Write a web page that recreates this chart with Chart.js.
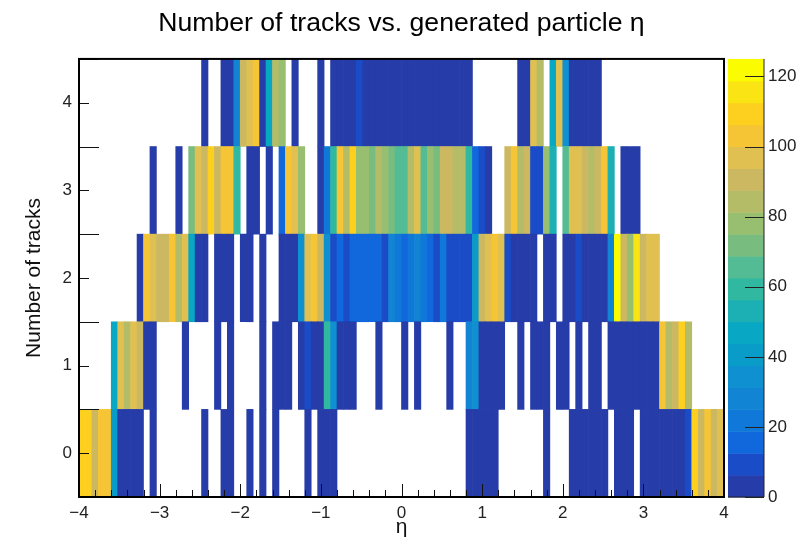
<!DOCTYPE html>
<html>
<head>
<meta charset="utf-8">
<title>Number of tracks vs. generated particle eta</title>
<script src="https://cdn.jsdelivr.net/npm/chart.js@4"></script>
<style>
  html, body { margin: 0; padding: 0; background: #fff; }
  canvas { display: block; }
</style>
</head>
<body>
<canvas id="myChart" width="799" height="537"></canvas>
<script>
// bin centres in eta, 100 bins from -4 to 4
const etaBins = [
  -3.96, -3.88, -3.80, -3.72, -3.64, -3.56, -3.48, -3.40, -3.32, -3.24,
  -3.16, -3.08, -3.00, -2.92, -2.84, -2.76, -2.68, -2.60, -2.52, -2.44,
  -2.36, -2.28, -2.20, -2.12, -2.04, -1.96, -1.88, -1.80, -1.72, -1.64,
  -1.56, -1.48, -1.40, -1.32, -1.24, -1.16, -1.08, -1.00, -0.92, -0.84,
  -0.76, -0.68, -0.60, -0.52, -0.44, -0.36, -0.28, -0.20, -0.12, -0.04,
  0.04, 0.12, 0.20, 0.28, 0.36, 0.44, 0.52, 0.60, 0.68, 0.76,
  0.84, 0.92, 1.00, 1.08, 1.16, 1.24, 1.32, 1.40, 1.48, 1.56,
  1.64, 1.72, 1.80, 1.88, 1.96, 2.04, 2.12, 2.20, 2.28, 2.36,
  2.44, 2.52, 2.60, 2.68, 2.76, 2.84, 2.92, 3.00, 3.08, 3.16,
  3.24, 3.32, 3.40, 3.48, 3.56, 3.64, 3.72, 3.80, 3.88, 3.96
];

// counts per eta bin, one array per number of tracks. 0 = empty bin
const tracks0 = [
  109, 109, 91, 103, 103, 41, 3, 3, 3, 3,
  0, 3, 0, 0, 0, 0, 0, 0, 0, 3,
  0, 0, 3, 3, 0, 0, 3, 0, 3, 0,
  3, 0, 0, 0, 0, 3, 0, 3, 3, 3,
  0, 0, 0, 0, 0, 0, 0, 0, 0, 0,
  0, 0, 0, 0, 0, 0, 0, 0, 0, 0,
  3, 3, 3, 3, 3, 0, 0, 0, 0, 0,
  0, 0, 3, 0, 0, 0, 3, 3, 3, 3,
  3, 3, 0, 3, 3, 3, 0, 3, 3, 3,
  3, 3, 3, 3, 9, 109, 91, 103, 91, 97
];
const tracks1 = [
  0, 0, 0, 0, 0, 47, 97, 84, 97, 91,
  3, 3, 0, 0, 0, 0, 3, 0, 0, 0,
  0, 3, 0, 3, 0, 0, 0, 0, 3, 0,
  3, 3, 3, 0, 3, 9, 3, 3, 59, 34,
  3, 3, 3, 0, 0, 0, 3, 0, 0, 0,
  3, 0, 3, 0, 0, 0, 0, 3, 0, 0,
  28, 34, 3, 3, 3, 3, 0, 0, 3, 0,
  3, 3, 3, 0, 3, 3, 0, 3, 0, 3,
  3, 0, 3, 3, 3, 3, 3, 3, 3, 3,
  103, 84, 91, 109, 84, 0, 0, 0, 0, 0
];
const tracks2 = [
  0, 0, 0, 0, 0, 0, 0, 0, 0, 3,
  103, 97, 91, 91, 103, 84, 97, 47, 3, 3,
  0, 3, 3, 3, 0, 3, 3, 0, 3, 0,
  0, 3, 3, 3, 34, 97, 103, 91, 34, 9,
  16, 9, 16, 16, 16, 16, 16, 9, 28, 22,
  16, 22, 28, 22, 16, 9, 22, 9, 9, 9,
  9, 41, 91, 97, 103, 97, 9, 3, 3, 3,
  3, 0, 3, 3, 0, 3, 3, 9, 3, 3,
  3, 3, 28, 122, 91, 78, 116, 91, 97, 97,
  0, 0, 0, 0, 0, 0, 0, 0, 0, 0
];
const tracks3 = [
  0, 0, 0, 0, 0, 0, 0, 0, 0, 0,
  0, 3, 0, 0, 0, 3, 0, 72, 97, 91,
  109, 91, 103, 103, 59, 0, 3, 3, 0, 3,
  0, 16, 103, 97, 78, 0, 0, 3, 22, 59,
  103, 84, 109, 78, 78, 72, 84, 78, 72, 66,
  66, 84, 97, 66, 78, 72, 91, 91, 84, 84,
  59, 16, 9, 3, 0, 0, 91, 103, 84, 91,
  9, 9, 78, 53, 0, 66, 97, 97, 91, 84,
  91, 103, 53, 0, 3, 3, 3, 0, 0, 0,
  0, 0, 0, 0, 0, 0, 0, 0, 0, 0
];
const tracks4 = [
  0, 0, 0, 0, 0, 0, 0, 0, 0, 0,
  0, 0, 0, 0, 0, 0, 0, 0, 0, 3,
  0, 0, 3, 3, 28, 91, 97, 103, 3, 47,
  84, 78, 0, 3, 0, 0, 0, 3, 0, 3,
  3, 3, 3, 9, 3, 3, 3, 3, 3, 3,
  3, 3, 3, 3, 3, 3, 3, 3, 3, 3,
  3, 0, 0, 0, 0, 0, 0, 0, 3, 3,
  97, 84, 0, 47, 97, 34, 3, 3, 3, 3,
  3, 0, 0, 0, 0, 0, 0, 0, 0, 0,
  0, 0, 0, 0, 0, 0, 0, 0, 0, 0
];
const rows = [tracks0, tracks1, tracks2, tracks3, tracks4];

// colour bands of the z axis, bottom to top
const zMax = 125;
const zTicks = [0, 20, 40, 60, 80, 100, 120];
const zBands = [
  '#263ca8', '#1a4cc8', '#1068dc', '#1078d8', '#1284d4',
  '#0f90d0', '#0a9cc8', '#08a8c4', '#1cb0b4', '#30b8a0',
  '#54bc94', '#78bc80', '#98bf70', '#b4bc68', '#ccb860',
  '#e0c050', '#f5c535', '#fdd020', '#fbe414', '#fcfc00'
];

function bandColor(v) {
  let k = Math.floor(v / (zMax / zBands.length));
  return zBands[Math.min(k, zBands.length - 1)];
}

// one dataset per row, empty bins are left out
let datasets = rows.map((row, y) => {
  let points = [];
  row.forEach((v, i) => {
    if (v > 0) points.push({ x: etaBins[i], y: [y - 0.5, y + 0.5], count: v });
  });
  return {
    label: y + ' tracks',
    data: points,
    backgroundColor: (ctx) => ctx.raw ? bandColor(ctx.raw.count) : '#fff',
    borderWidth: 0,
    grouped: false,
    barPercentage: 1,
    categoryPercentage: 1
  };
});

// frame, inward ticks and the palette box, all placed from the scales
const rootFrame = {
  id: 'rootFrame',
  afterDatasetsDraw(chart) {
    const { ctx, chartArea: a, scales } = chart;
    ctx.save();

    // palette
    const pl = a.right + 4, pr = a.right + 40;
    zBands.forEach((c, k) => {
      let y0 = scales.z.getPixelForValue(k * zMax / zBands.length);
      let y1 = scales.z.getPixelForValue((k + 1) * zMax / zBands.length);
      ctx.fillStyle = c;
      ctx.fillRect(pl, y1, pr - pl, y0 - y1 + 0.5);
    });
    ctx.strokeStyle = '#222';
    ctx.lineWidth = 1;
    ctx.beginPath();
    ctx.moveTo(pr, a.top);
    ctx.lineTo(pr, a.bottom);
    ctx.moveTo(pl, a.bottom);
    ctx.lineTo(pr, a.bottom);
    scales.z.ticks.forEach((t) => {
      let y = Math.round(scales.z.getPixelForValue(t.value)) + 0.5;
      ctx.moveTo(pr - 19, y);
      ctx.lineTo(pr, y);
    });
    ctx.stroke();

    // x ticks
    ctx.strokeStyle = '#111';
    ctx.beginPath();
    scales.x.ticks.forEach((t) => {
      let major = Math.abs(t.value - Math.round(t.value)) < 0.001;
      let x = Math.round(scales.x.getPixelForValue(t.value)) + 0.5;
      ctx.moveTo(x, a.bottom);
      ctx.lineTo(x, a.bottom - (major ? 13 : 7));
    });
    // y ticks, the half-integer ones are longer
    scales.y.ticks.forEach((t) => {
      let whole = Math.abs(t.value - Math.round(t.value)) < 0.001;
      let y = Math.round(scales.y.getPixelForValue(t.value)) + 0.5;
      ctx.moveTo(a.left, y);
      ctx.lineTo(a.left + (whole ? 10 : 20), y);
    });
    ctx.stroke();

    // frame
    ctx.strokeStyle = '#000';
    ctx.lineWidth = 2;
    ctx.strokeRect(a.left, a.top, a.right - a.left, a.bottom - a.top);
    ctx.restore();
  }
};

const labelFont = { family: 'Liberation Sans', size: 17 };

// the vertical axes must not ask for room for half a label above and below
function fixVertical(width) {
  return (s) => {
    s.width = width;
    s.paddingTop = 0;
    s.paddingBottom = 0;
  };
}

let barGraph = new Chart(document.getElementById('myChart'), {
  type: 'bar',
  data: { datasets: datasets },
  plugins: [rootFrame],
  options: {
    responsive: false,
    animation: false,
    layout: { padding: 0 },
    plugins: {
      legend: { display: false },
      tooltip: { enabled: false },
      title: {
        display: true,
        fullSize: false,
        text: 'Number of tracks vs. generated particle η',
        color: '#000',
        font: { family: 'Liberation Sans', size: 26.6, weight: 'normal' },
        padding: { top: 8, bottom: 19 }
      }
    },
    scales: {
      x: {
        type: 'linear',
        offset: false,
        min: -4,
        max: 4,
        grid: { display: false, drawTicks: false, offset: false },
        border: { display: false },
        ticks: {
          stepSize: 0.2,
          autoSkip: false,
          maxRotation: 0,
          padding: 6,
          color: '#222',
          font: labelFont,
          callback: (v) => {
            let r = Math.round(v);
            if (Math.abs(v - r) > 0.001) return '';
            return r < 0 ? '\u2212' + (-r) : '' + r;
          }
        },
        title: { display: true, text: 'η', color: '#111', font: { family: 'Liberation Sans', size: 21 }, padding: { top: 0, bottom: -3 } },
        afterFit: (s) => {
          s.height = 40;
          s.paddingLeft = 0;
          s.paddingRight = 0;
        }
      },
      y: {
        min: -0.5,
        max: 4.5,
        grid: { display: false, drawTicks: false },
        border: { display: false },
        ticks: {
          stepSize: 0.5,
          autoSkip: false,
          padding: 7,
          color: '#222',
          font: labelFont,
          callback: (v) => Number.isInteger(v) ? '' + v : ''
        },
        title: { display: true, text: 'Number of tracks', color: '#111', font: { family: 'Liberation Sans', size: 21 }, padding: { top: 22, bottom: 0 } },
        afterFit: fixVertical(79)
      },
      z: {
        axis: 'y',
        position: 'right',
        min: 0,
        max: zMax,
        grid: { display: false, drawTicks: false },
        border: { display: false },
        afterBuildTicks: (s) => { s.ticks = zTicks.map((v) => ({ value: v })); },
        ticks: {
          autoSkip: false,
          padding: 44,
          color: '#222',
          font: labelFont
        },
        afterFit: fixVertical(75)
      }
    }
  }
});
</script>
</body>
</html>
